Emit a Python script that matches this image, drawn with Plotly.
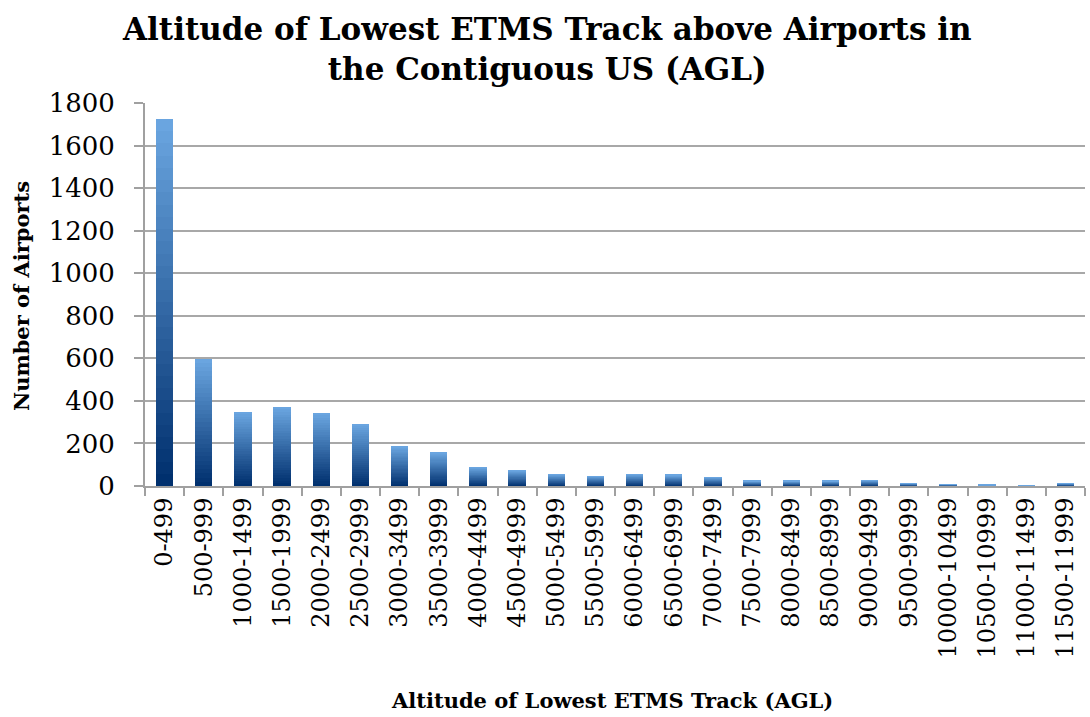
import plotly.graph_objects as go

categories = ["0-499", "500-999", "1000-1499", "1500-1999", "2000-2499", "2500-2999",
              "3000-3499", "3500-3999", "4000-4499", "4500-4999", "5000-5499", "5500-5999",
              "6000-6499", "6500-6999", "7000-7499", "7500-7999", "8000-8499", "8500-8999",
              "9000-9499", "9500-9999", "10000-10499", "10500-10999", "11000-11499", "11500-11999"]
counts = [1725, 598, 348, 372, 343, 291, 188, 160, 89, 75, 56, 47,
          56, 52, 42, 24, 24, 24, 28, 14, 9, 5, 4, 14]
y_ticks = [0, 200, 400, 600, 800, 1000, 1200, 1400, 1600, 1800]

dark = (0, 48, 110)
light = (106, 165, 224)
n_seg = 30

fig = go.Figure()
for i in range(n_seg):
    t = i / (n_seg - 1)
    c = tuple(round(dark[k] + (light[k] - dark[k]) * t) for k in range(3))
    fig.add_trace(go.Bar(
        x=categories, y=[v / n_seg for v in counts],
        marker=dict(color="rgb(%d,%d,%d)" % c, line=dict(width=0)),
        showlegend=False,
        customdata=counts, hovertemplate="%{x}: %{customdata}<extra></extra>",
    ))

serif = "DejaVu Serif, Liberation Serif, serif"
H = 717 - 103 - 231
fig.update_layout(
    barmode="stack", bargap=0.56,
    width=1090, height=717,
    margin=dict(l=145, r=5, t=103, b=231),
    plot_bgcolor="white", paper_bgcolor="white",
    font=dict(family=serif, color="black"),
    annotations=[
        dict(text="<b>Altitude of Lowest ETMS Track above Airports in<br>the Contiguous US (AGL)</b>",
             xref="paper", yref="paper", x=(547 - 145) / 940, y=1 + (103 - 49) / H,
             xanchor="center", yanchor="middle", showarrow=False,
             font=dict(family=serif, size=31, color="black")),
        dict(text="<b>Number of Airports</b>", textangle=-90,
             xref="paper", yref="paper", x=(21 - 145) / 940, y=(486 - 296) / H,
             xanchor="center", yanchor="middle", showarrow=False,
             font=dict(family=serif, size=21, color="black")),
        dict(text="<b>Altitude of Lowest ETMS Track (AGL)</b>",
             xref="paper", yref="paper", x=(612 - 145) / 940, y=-(700 - 486) / H,
             xanchor="center", yanchor="middle", showarrow=False,
             font=dict(family=serif, size=21, color="black")),
    ],
)
fig.update_xaxes(
    automargin=False,
    showline=True, linecolor="#a0a0a0", linewidth=2,
    ticks="outside", tickson="boundaries", ticklen=8, tickcolor="#a0a0a0", tickwidth=2,
    tickangle=-90, tickfont=dict(family=serif, size=24),
)
fig.update_yaxes(
    automargin=False,
    range=[0, 1800], tickvals=y_ticks,
    showline=True, linecolor="#a0a0a0", linewidth=2,
    showgrid=True, gridcolor="#a8a8a8", gridwidth=1.5,
    ticks="outside", ticklen=9, tickcolor="#a0a0a0", tickwidth=2,
    ticklabelstandoff=14,
    tickfont=dict(family=serif, size=26),
    zeroline=False,
)
fig.write_html("out.html", config={"displayModeBar": False},
               post_script="document.body.style.margin='0';document.body.style.padding='0';")
